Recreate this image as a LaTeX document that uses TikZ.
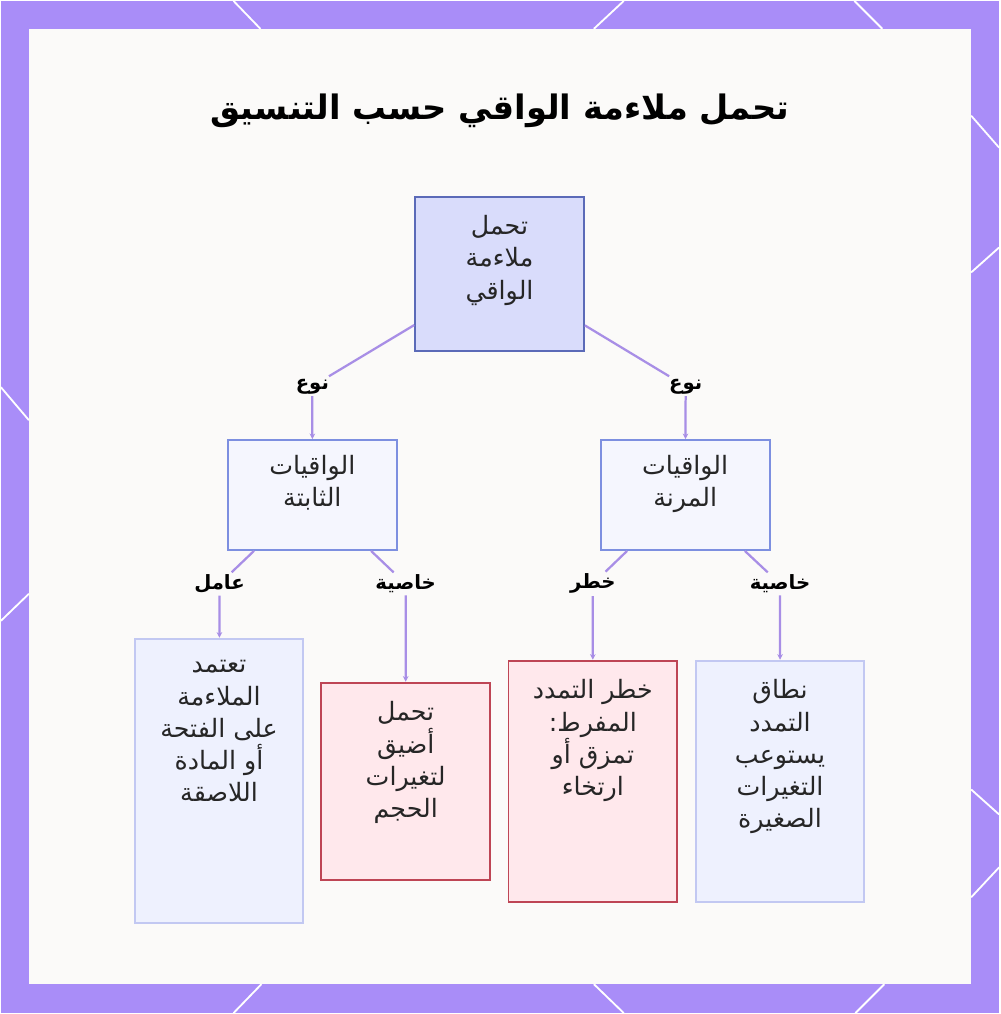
\documentclass[tikz,border=0pt]{standalone}
\usepackage{fontspec}
\newfontfamily\arabicfont[Script=Arabic]{DejaVu Sans}
\TeXXeTstate=1
\usepackage{tikz}
\usetikzlibrary{positioning,arrows.meta}

\definecolor{framebg}{HTML}{A98DF8}
\definecolor{paper}{HTML}{FBFAF9}
\definecolor{rootfill}{HTML}{D9DCFB}
\definecolor{rootline}{HTML}{5B6AB8}
\definecolor{midfill}{HTML}{F5F6FE}
\definecolor{midline}{HTML}{7D8FE0}
\definecolor{leaffill}{HTML}{EEF1FE}
\definecolor{leafline}{HTML}{C2C8F2}
\definecolor{riskfill}{HTML}{FFE8EC}
\definecolor{riskline}{HTML}{BE4555}
\definecolor{edgecol}{HTML}{A88EE6}

\newcommand{\rtl}[1]{\beginR #1\endR}

\tikzset{
  box/.style={draw, line width=1.4pt, minimum width=4.225cm},
  rootbox/.style={box, fill=rootfill, draw=rootline, minimum height=3.875cm},
  midbox/.style={box, fill=midfill, draw=midline, minimum height=2.75cm},
  leafbox/.style={box, fill=leaffill, draw=leafline},
  riskbox/.style={box, fill=riskfill, draw=riskline},
  boxtext/.style={font=\arabicfont\fontsize{18}{23}\selectfont, align=center, text=black!85, inner sep=0pt},
  edgelabel/.style={font=\arabicfont\bfseries\fontsize{14}{16}\selectfont, inner sep=1.5pt},
  link/.style={draw=edgecol, line width=1.6pt, -{Stealth[length=4pt,width=4pt]}},
  hexline/.style={white, line width=1.3pt}
}

\begin{document}
\begin{tikzpicture}[x=0.025cm,y=-0.025cm]

  % frame and paper
  \fill[framebg] (0,0) rectangle (1000,1014);
  \draw[hexline] (233,0) -- (260,28);
  \draw[hexline] (624,0) -- (594,28);
  \draw[hexline] (855,0) -- (883,28);
  \draw[hexline] (261,985) -- (233,1014);
  \draw[hexline] (594,985) -- (624,1014);
  \draw[hexline] (885,985) -- (856,1014);
  \draw[hexline] (0,387) -- (28,420);
  \draw[hexline] (28,594) -- (0,621);
  \draw[hexline] (972,115) -- (1000,147);
  \draw[hexline] (972,272) -- (1000,247);
  \draw[hexline] (972,790) -- (1000,815);
  \draw[hexline] (972,898) -- (1000,868);
  \fill[paper] (28,28) rectangle (972,985);

  % title
  \node[font=\arabicfont\bfseries\fontsize{24}{30}\selectfont] (title) at (500,110) {\rtl{تحمل ملاءمة الواقي حسب التنسيق}};

  % boxes
  \node[rootbox] (root) at (499.5,273.5) {};
  \node[midbox] (fixed) at (312,495) {};
  \node[midbox] (elastic) at (685.5,495) {};
  \node[leafbox, minimum height=7.125cm] (adhesive) at (218.5,781.5) {};
  \node[riskbox, minimum height=4.95cm] (narrow) at (405.5,782) {};
  \node[riskbox, minimum height=6.05cm] (overstretch) at (593,782) {};
  \node[leafbox, minimum height=6.05cm] (range) at (780.5,782) {};

  % box texts
  \node[boxtext, below=14pt of root.north] (roottxt) {\rtl{تحمل}\\ \rtl{ملاءمة}\\ \rtl{الواقي}};
  \node[boxtext, below=11pt of fixed.north] (fixedtxt) {\rtl{الواقيات}\\ \rtl{الثابتة}};
  \node[boxtext, below=11pt of elastic.north] (elastictxt) {\rtl{الواقيات}\\ \rtl{المرنة}};
  \node[boxtext, below=16pt of adhesive.north] (adhesivetxt) {\rtl{تعتمد}\\ \rtl{الملاءمة}\\ \rtl{على الفتحة}\\ \rtl{أو المادة}\\ \rtl{اللاصقة}};
  \node[boxtext, below=14pt of narrow.north] (narrowtxt) {\rtl{تحمل}\\ \rtl{أضيق}\\ \rtl{لتغيرات}\\ \rtl{الحجم}};
  \node[boxtext, below=14pt of overstretch.north] (overstretchtxt) {\rtl{خطر التمدد}\\ \rtl{المفرط:}\\ \rtl{تمزق أو}\\ \rtl{ارتخاء}};
  \node[boxtext, below=14pt of range.north] (rangetxt) {\rtl{نطاق}\\ \rtl{التمدد}\\ \rtl{يستوعب}\\ \rtl{التغيرات}\\ \rtl{الصغيرة}};

  % edge labels
  \node[edgelabel] (typeL) at (312,386) {\rtl{نوع}};
  \node[edgelabel] (typeR) at (686,386) {\rtl{نوع}};
  \node[edgelabel] (factor) at (219,584) {\rtl{عامل}};
  \node[edgelabel] (propL) at (405.5,584) {\rtl{خاصية}};
  \node[edgelabel] (risk) at (593,584) {\rtl{خطر}};
  \node[edgelabel] (propR) at (780.5,584) {\rtl{خاصية}};

  % connectors
  \draw[link] (root) -- (typeL) -- (fixed);
  \draw[link] (root) -- (typeR) -- (elastic);
  \draw[link] (fixed) -- (factor) -- (adhesive);
  \draw[link] (fixed) -- (propL) -- (narrow);
  \draw[link] (elastic) -- (risk) -- (overstretch);
  \draw[link] (elastic) -- (propR) -- (range);

\end{tikzpicture}
\end{document}
